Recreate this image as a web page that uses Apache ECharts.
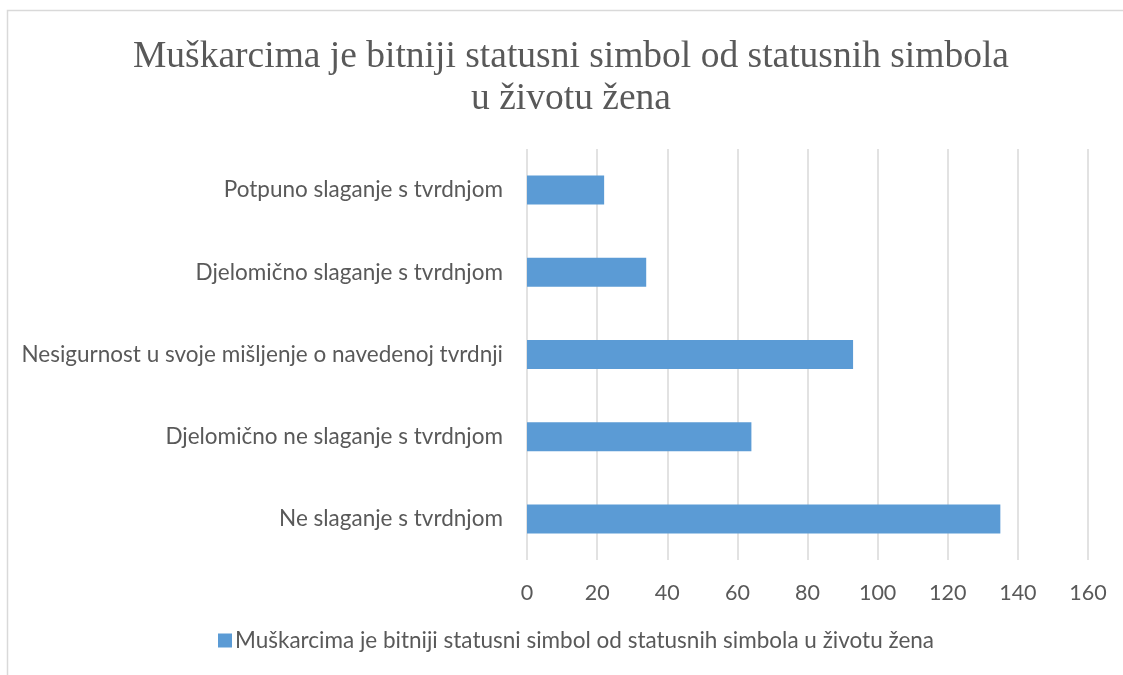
<!DOCTYPE html>
<html>
<head>
<meta charset="utf-8">
<script src="https://cdn.jsdelivr.net/npm/echarts@6/dist/echarts.min.js"></script>
<style>
  html, body { margin: 0; padding: 0; background: #fff; }
</style>
</head>
<body>
<div id="main" style="width: 1123px; height: 675px;"></div>
<script>
// podaci s grafa (odozdo prema gore)
const categories = [
  'Ne slaganje s tvrdnjom',
  'Djelomično ne slaganje s tvrdnjom',
  'Nesigurnost u svoje mišljenje o navedenoj tvrdnji',
  'Djelomično slaganje s tvrdnjom',
  'Potpuno slaganje s tvrdnjom'
];
const values = [135, 64, 93, 34, 22];
const seriesName = 'Muškarcima je bitniji statusni simbol od statusnih simbola u životu žena';
const titleText = 'Muškarcima je bitniji statusni simbol od statusnih simbola\nu životu žena';

const myChart = echarts.init(document.getElementById('main'));
const labelFont = 'Lato, "Open Sans", sans-serif';
const option = {
  animation: false,
  backgroundColor: '#fff',
  graphic: [
    {
      type: 'rect',
      shape: { x: 7.5, y: 10.5, width: 1200, height: 700 },
      style: { fill: 'none', stroke: '#d9d9d9', lineWidth: 1.5 },
      silent: true
    }
  ],
  title: {
    text: titleText,
    left: 566,
    textAlign: 'center',
    top: 31,
    textStyle: {
      fontFamily: '"Liberation Serif", "DejaVu Serif", serif',
      fontWeight: 'normal',
      fontSize: 37.5,
      lineHeight: 42,
      color: '#595959'
    }
  },
  legend: {
    bottom: 18,
    left: 213,
    itemWidth: 14,
    itemHeight: 14,
    itemGap: 5,
    icon: 'rect',
    data: [seriesName],
    textStyle: {
      fontFamily: labelFont,
      fontSize: 22.5,
      color: '#595959',
      padding: [0, 0, 0, -2]
    }
  },
  grid: {
    left: 527,
    right: 35,
    top: 149,
    bottom: 115,
    containLabel: false
  },
  xAxis: {
    type: 'value',
    min: 0,
    max: 160,
    interval: 20,
    axisLine: { show: false },
    axisTick: { show: false },
    axisLabel: {
      margin: 22,
      fontFamily: labelFont,
      fontSize: 21.5,
      color: '#595959'
    },
    splitLine: {
      lineStyle: { color: '#d9d9d9', width: 1.5 }
    }
  },
  yAxis: {
    type: 'category',
    data: categories,
    axisLine: { show: false },
    axisTick: { show: false },
    axisLabel: {
      margin: 24,
      fontFamily: labelFont,
      fontSize: 22.5,
      color: '#595959'
    }
  },
  series: [
    {
      name: seriesName,
      type: 'bar',
      data: values,
      barWidth: 29,
      itemStyle: { color: '#5b9bd5' }
    }
  ]
};
myChart.setOption(option);
</script>
</body>
</html>
